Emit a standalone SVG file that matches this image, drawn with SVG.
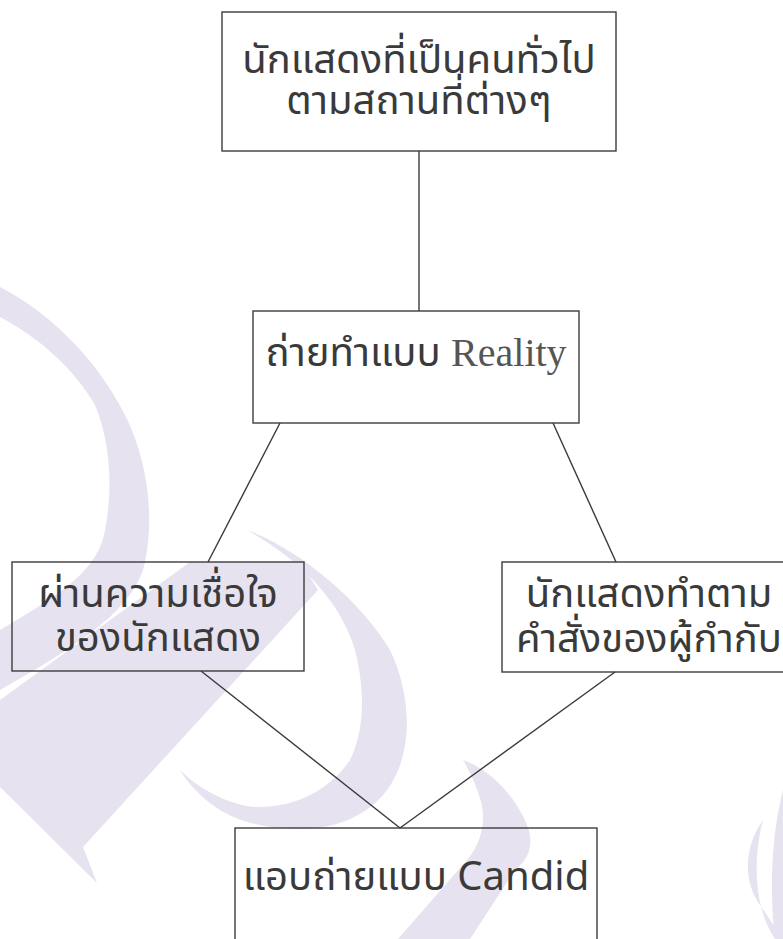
<svg xmlns="http://www.w3.org/2000/svg" width="783" height="939" viewBox="0 0 783 939">
<style>
.wm{fill:#e7e2ef;stroke:none}
.box{fill:none;stroke:#3c3c3c;stroke-width:1.4}
.t{font-family:"Noto Sans Thai","Noto Sans","DejaVu Sans",sans-serif;font-size:40px;fill:#3a3a3a;text-anchor:middle}
.serif{font-family:"Liberation Serif","DejaVu Serif",serif;fill:#555}
.edge{stroke:#3a3a3a;stroke-width:1.4;fill:none}
</style>
<rect width="783" height="939" fill="#ffffff"/>
<g id="watermark">
<path class="wm" d="M0,287 C45,310 95,355 125,415 C150,465 155,525 143,570 C128,615 70,650 0,690 L0,630 C50,600 95,575 104,535 C114,490 110,440 95,405 C75,370 40,338 0,317 Z"/>
<path class="wm" d="M0,700 L190,562 L300,562 L318,590 L83,847 L97,883 L0,787 Z"/>
<path class="wm" d="M247,530 C300,550 360,600 390,650 C405,680 410,720 405,745 C398,790 370,815 333,825 C300,833 250,830 217,808 C200,797 188,783 180,770 C200,790 230,805 255,807 C295,808 330,790 350,760 C365,730 365,690 355,650 C340,600 300,560 247,530 Z"/>
<path class="wm" d="M463,760 C490,770 515,795 527,825 C535,845 528,860 515,870 L470,939 L398,939 L460,868 C478,850 486,830 482,805 C478,790 472,775 463,760 Z"/>
<path class="wm" d="M783,790 L783,939 L775,939 C770,900 770,840 783,790 Z"/>
<path class="wm" d="M763,820 C745,845 742,880 760,905 L783,939 L775,939 C755,910 752,860 763,820 Z"/>
</g>
<g id="connectors">
<line class="edge" x1="419" y1="151" x2="419" y2="311"/>
<line class="edge" x1="280" y1="423" x2="208" y2="562"/>
<line class="edge" x1="553" y1="423" x2="616" y2="562"/>
<line class="edge" x1="201" y1="671" x2="400" y2="828"/>
<line class="edge" x1="615" y1="672" x2="400" y2="828"/>
</g>
<g id="node-top">
<rect class="box" x="222" y="12" width="394" height="139"/>
<text class="t" x="419" y="73">นักแสดงที่เป็นคนทั่วไป</text>
<text class="t" x="419" y="114">ตามสถานที่ต่างๆ</text>
</g>
<g id="node-reality">
<rect class="box" x="253" y="311" width="326" height="112"/>
<text class="t" x="416" y="366">ถ่ายทำแบบ <tspan class="serif">Reality</tspan></text>
</g>
<g id="node-trust">
<rect class="box" x="12" y="562" width="292" height="109"/>
<text class="t" x="158" y="607">ผ่านความเชื่อใจ</text>
<text class="t" x="158" y="651">ของนักแสดง</text>
</g>
<g id="node-director">
<rect class="box" x="502" y="562" width="294" height="110"/>
<text class="t" x="649" y="607">นักแสดงทำตาม</text>
<text class="t" x="649" y="652">คำสั่งของผู้กำกับ</text>
</g>
<g id="node-candid">
<rect class="box" x="235" y="828" width="362" height="130"/>
<text class="t" x="416" y="890">แอบถ่ายแบบ Candid</text>
</g>
</svg>
